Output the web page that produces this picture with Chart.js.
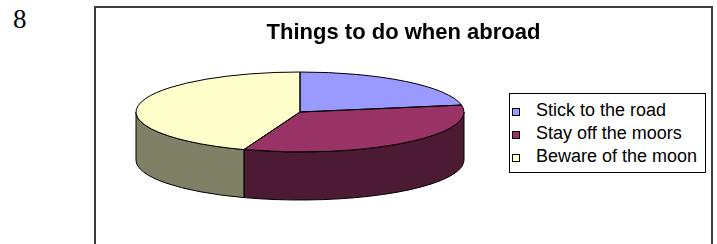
<!DOCTYPE html>
<html>
<head>
<meta charset="utf-8">
<script src="https://cdn.jsdelivr.net/npm/chart.js@4.4.1/dist/chart.umd.min.js"></script>
<style>
  html, body { margin: 0; padding: 0; background: #fff; }
  body { width: 717px; height: 244px; overflow: hidden; position: relative; }
  #num { position: absolute; left: 13px; top: 6px; font: 27px "Liberation Serif", "Times New Roman", serif; line-height: 1; color: #000; }
  #frame { position: absolute; left: 94px; top: 6px; width: 615px; height: 300px; border: 2px solid #3c3c3c; }
  #wrap { position: absolute; left: 96px; top: 8px; width: 615px; height: 236px; }
  #legend { position: absolute; left: 509px; top: 93px; width: 195px; height: 78px; border: 1px solid #000; background: #fff; }
  #legend .item { position: relative; height: 23px; line-height: 23px; padding-left: 26px; font: 18px "Liberation Sans", Arial, sans-serif; color: #000; white-space: nowrap; }
  #legend .item:first-child { margin-top: 6px; }
  #legend .box { position: absolute; left: 2px; top: 8px; width: 6px; height: 6px; border: 1px solid #000; }
</style>
</head>
<body>
<div id="num">8</div>
<div id="frame"></div>
<div id="wrap"><canvas id="myChart"></canvas></div>
<div id="legend"></div>
<script>
var labels = ["Stick to the road", "Stay off the moors", "Beware of the moon"];
var values = [2, 3, 4];
var topColors = ["#9999FF", "#993366", "#FFFFCC"];
var sideColors = ["#4D4D80", "#4D1A33", "#808066"];

// 3d look: top face squashed into an ellipse, with a wall underneath
var pieRadius = 164;
var tilt = 40 / 164;
var depth = 48;
var pieCenterX = 204;
var pieCenterY = 104;

function frontParts(s, e) {
  var parts = [];
  for (var k = -1; k <= 1; k++) {
    var lo = Math.max(s, k * 2 * Math.PI);
    var hi = Math.min(e, k * 2 * Math.PI + Math.PI);
    if (hi > lo) parts.push([lo, hi]);
  }
  return parts;
}

var pie3d = {
  id: "pie3d",
  beforeDatasetsDraw: function (chart) {
    var ctx = chart.ctx;
    var arcs = chart.getDatasetMeta(0).data;
    ctx.save();
    ctx.lineWidth = 1;
    ctx.strokeStyle = "#000";
    arcs.forEach(function (arc, i) {
      var r = arc.outerRadius, b = r * tilt;
      frontParts(arc.startAngle, arc.endAngle).forEach(function (p) {
        ctx.beginPath();
        ctx.ellipse(pieCenterX, pieCenterY, r, b, 0, p[0], p[1]);
        ctx.ellipse(pieCenterX, pieCenterY + depth, r, b, 0, p[1], p[0], true);
        ctx.closePath();
        ctx.fillStyle = sideColors[i];
        ctx.fill();
        ctx.stroke();
      });
    });
    ctx.restore();

    var a0 = arcs[0];
    ctx.save();
    ctx.translate(pieCenterX, pieCenterY);
    ctx.scale(1, tilt);
    ctx.translate(-a0.x, -a0.y);
  },
  afterDatasetsDraw: function (chart) {
    var ctx = chart.ctx;
    ctx.restore();
    var arcs = chart.getDatasetMeta(0).data;
    ctx.save();
    ctx.lineWidth = 1;
    ctx.strokeStyle = "#000";
    arcs.forEach(function (arc) {
      var r = arc.outerRadius;
      ctx.beginPath();
      ctx.moveTo(pieCenterX, pieCenterY);
      ctx.ellipse(pieCenterX, pieCenterY, r, r * tilt, 0, arc.startAngle, arc.endAngle);
      ctx.closePath();
      ctx.stroke();
    });
    ctx.restore();
  }
};

new Chart("myChart", {
  type: "pie",
  data: {
    labels: labels,
    datasets: [{
      data: values,
      backgroundColor: topColors,
      borderWidth: 0,
      clip: false
    }]
  },
  plugins: [pie3d],
  options: {
    responsive: true,
    maintainAspectRatio: false,
    animation: false,
    events: [],
    radius: pieRadius,
    plugins: {
      legend: { display: false },
      tooltip: { enabled: false },
      title: {
        display: true,
        text: "Things to do when abroad",
        color: "#000",
        font: { family: "'Liberation Sans', Arial, sans-serif", size: 22, weight: "bold" },
        padding: { top: 12, bottom: 0 }
      }
    }
  }
});

// legend box on the right
var legend = document.getElementById("legend");
labels.forEach(function (lab, i) {
  var row = document.createElement("div");
  row.className = "item";
  var box = document.createElement("span");
  box.className = "box";
  box.style.background = topColors[i];
  row.appendChild(box);
  row.appendChild(document.createTextNode(lab));
  legend.appendChild(row);
});
</script>
</body>
</html>
